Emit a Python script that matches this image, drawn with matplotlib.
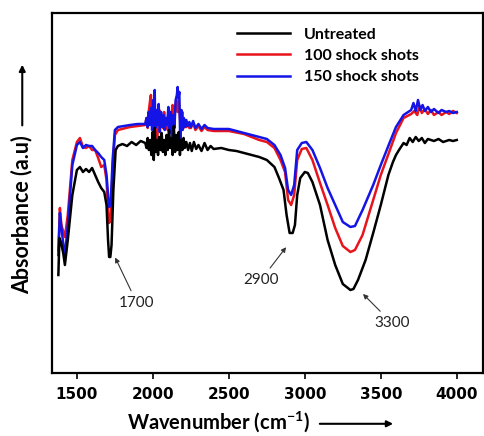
import matplotlib
matplotlib.use('Agg')
import matplotlib.pyplot as plt
from matplotlib.patches import FancyArrowPatch

plt.rcParams['font.family'] = ['Lato', 'DejaVu Sans']
plt.rcParams['mathtext.fontset'] = 'custom'
plt.rcParams['mathtext.rm'] = 'Lato'
plt.rcParams['mathtext.bf'] = 'Lato:bold'

# Spectra: wavenumber (cm^-1) and absorbance (a.u.)
wn_untreated = [1378, 1385, 1395, 1410, 1421, 1440, 1470, 1500, 1520, 1540, 1560, 1580, 1600,
                1620, 1640, 1660, 1680, 1695, 1705, 1712, 1720, 1728, 1740, 1755, 1770, 1800,
                1830, 1860, 1890, 1920, 1950, 1958, 1966, 1974, 1982, 1990, 1998, 2006, 2012,
                2018, 2026, 2034, 2042, 2050, 2058, 2066, 2074, 2082, 2090, 2098, 2106, 2114,
                2122, 2130, 2138, 2146, 2154, 2162, 2170, 2178, 2186, 2194, 2202, 2210, 2220,
                2232, 2244, 2256, 2270, 2285, 2300, 2320, 2340, 2360, 2380, 2400, 2450, 2500,
                2550, 2600, 2650, 2700, 2750, 2800, 2830, 2860, 2880, 2900, 2920, 2935, 2950,
                2970, 3000, 3020, 3050, 3100, 3150, 3200, 3250, 3300, 3320, 3350, 3400, 3450,
                3500, 3550, 3580, 3600, 3620, 3650, 3670, 3690, 3710, 3730, 3750, 3770, 3790,
                3810, 3850, 3880, 3910, 3950, 3975, 4000]
abs_untreated = [0.98, 1.35, 1.31, 1.20, 1.08, 1.33, 1.78, 2.03, 2.06, 2.01, 2.04, 2.01, 2.05,
                 1.98, 1.91, 1.85, 1.81, 1.68, 1.33, 1.16, 1.16, 1.28, 1.83, 2.23, 2.27, 2.29,
                 2.27, 2.31, 2.28, 2.32, 2.30, 2.25, 2.35, 2.23, 2.33, 2.18, 2.41, 2.13, 2.45,
                 2.21, 2.33, 2.18, 2.36, 2.23, 2.40, 2.21, 2.33, 2.18, 2.38, 2.23, 2.43, 2.25,
                 2.35, 2.18, 2.47, 2.21, 2.38, 2.23, 2.41, 2.18, 2.33, 2.23, 2.35, 2.25, 2.31,
                 2.23, 2.30, 2.22, 2.31, 2.24, 2.28, 2.22, 2.30, 2.23, 2.27, 2.24, 2.25, 2.23,
                 2.22, 2.20, 2.18, 2.16, 2.13, 2.06, 1.95, 1.83, 1.58, 1.40, 1.40, 1.48, 1.78,
                 1.95, 2.01, 2.00, 1.91, 1.68, 1.33, 1.08, 0.89, 0.83, 0.84, 0.93, 1.13, 1.40,
                 1.68, 1.98, 2.11, 2.18, 2.23, 2.30, 2.28, 2.35, 2.31, 2.36, 2.32, 2.35, 2.30,
                 2.34, 2.32, 2.34, 2.31, 2.33, 2.32, 2.33]

wn_100 = [1378, 1388, 1398, 1421, 1440, 1470, 1500, 1520, 1540, 1560, 1580, 1600, 1620, 1640,
          1660, 1680, 1695, 1705, 1712, 1722, 1735, 1750, 1770, 1850, 1900, 1950, 1958, 1966,
          1974, 1982, 1987, 1992, 2000, 2008, 2015, 2022, 2028, 2034, 2042, 2050, 2058, 2066,
          2074, 2082, 2090, 2098, 2106, 2114, 2122, 2130, 2138, 2146, 2154, 2162, 2170, 2178,
          2186, 2194, 2202, 2210, 2220, 2230, 2240, 2250, 2265, 2280, 2300, 2320, 2340, 2360,
          2400, 2500, 2600, 2700, 2750, 2800, 2840, 2870, 2890, 2910, 2930, 2950, 2980, 3010,
          3050, 3100, 3150, 3200, 3250, 3300, 3330, 3380, 3450, 3500, 3560, 3600, 3650, 3700,
          3720, 3740, 3755, 3770, 3790, 3810, 3830, 3850, 3880, 3900, 3930, 3950, 3975, 4000]
abs_100 = [1.23, 1.65, 1.48, 1.36, 1.58, 2.13, 2.31, 2.35, 2.26, 2.25, 2.27, 2.23, 2.23, 2.15,
           2.06, 2.08, 1.93, 1.63, 1.50, 1.53, 2.03, 2.38, 2.43, 2.46, 2.47, 2.48, 2.55, 2.45,
           2.63, 2.73, 2.78, 2.58, 2.46, 2.68, 2.53, 2.33, 2.25, 2.55, 2.63, 2.48, 2.58, 2.45,
           2.61, 2.48, 2.55, 2.43, 2.61, 2.45, 2.58, 2.68, 2.48, 2.65, 2.73, 2.61, 2.73, 2.55,
           2.43, 2.61, 2.45, 2.53, 2.46, 2.49, 2.45, 2.45, 2.50, 2.43, 2.47, 2.42, 2.46, 2.43,
           2.42, 2.42, 2.39, 2.33, 2.31, 2.25, 2.13, 2.01, 1.73, 1.68, 1.78, 2.13, 2.24, 2.25,
           2.13, 1.90, 1.68, 1.45, 1.27, 1.21, 1.23, 1.38, 1.73, 1.98, 2.23, 2.40, 2.55, 2.59,
           2.62, 2.58, 2.67, 2.60, 2.64, 2.59, 2.63, 2.58, 2.61, 2.58, 2.61, 2.59, 2.62, 2.60]

wn_150 = [1378, 1388, 1398, 1421, 1440, 1470, 1500, 1520, 1540, 1560, 1580, 1600, 1620, 1640,
          1660, 1680, 1695, 1705, 1712, 1722, 1735, 1750, 1770, 1850, 1900, 1950, 1958, 1965,
          1972, 1980, 1988, 1995, 2002, 2008, 2012, 2016, 2022, 2030, 2038, 2046, 2054, 2062,
          2070, 2078, 2086, 2094, 2102, 2110, 2118, 2126, 2134, 2142, 2150, 2158, 2163, 2168,
          2174, 2180, 2188, 2196, 2204, 2212, 2220, 2230, 2240, 2250, 2265, 2280, 2300, 2320,
          2340, 2360, 2400, 2500, 2600, 2700, 2750, 2800, 2840, 2870, 2890, 2910, 2930, 2950,
          2980, 3010, 3050, 3100, 3150, 3200, 3250, 3300, 3330, 3380, 3450, 3500, 3560, 3600,
          3650, 3700, 3715, 3730, 3745, 3760, 3775, 3790, 3810, 3830, 3850, 3880, 3900, 3930,
          3950, 3975, 4000]
abs_150 = [1.18, 1.60, 1.45, 1.16, 1.48, 2.08, 2.28, 2.31, 2.25, 2.28, 2.27, 2.27, 2.23, 2.20,
           2.16, 2.13, 1.98, 1.78, 1.66, 1.68, 2.13, 2.43, 2.46, 2.48, 2.49, 2.49, 2.55, 2.46,
           2.61, 2.48, 2.65, 2.43, 2.73, 2.38, 2.83, 2.45, 2.63, 2.48, 2.69, 2.41, 2.61, 2.46,
           2.58, 2.43, 2.55, 2.48, 2.66, 2.40, 2.61, 2.35, 2.58, 2.45, 2.73, 2.78, 2.86, 2.75,
           2.81, 2.33, 2.63, 2.43, 2.55, 2.46, 2.53, 2.47, 2.51, 2.46, 2.52, 2.45, 2.49, 2.44,
           2.48, 2.45, 2.44, 2.44, 2.40, 2.36, 2.34, 2.28, 2.18, 2.05, 1.83, 1.78, 1.88, 2.23,
           2.30, 2.31, 2.23, 2.05, 1.85, 1.68, 1.51, 1.46, 1.47, 1.63, 1.88, 2.08, 2.31, 2.46,
           2.58, 2.63, 2.70, 2.62, 2.73, 2.63, 2.68, 2.62, 2.66, 2.61, 2.64, 2.60, 2.63, 2.61,
           2.62, 2.60, 2.61]

labels = ['Untreated', '100 shock shots', '150 shock shots']
colors = ['black', '#e8141c', '#1414e6']
peaks = [1700, 2900, 3300]

fig = plt.figure(figsize=(4.84, 4.36), dpi=100)
ax = fig.add_axes([0.1074, 0.1445, 0.890, 0.8257])

ax.plot(wn_100, abs_100, color=colors[1], lw=1.8, label=labels[1], zorder=2)
ax.plot(wn_150, abs_150, color=colors[2], lw=1.8, label=labels[2], zorder=3)
ax.plot(wn_untreated, abs_untreated, color=colors[0], lw=1.8, label=labels[0], zorder=4)

ax.set_xlim(1336, 4171)
ax.set_ylim(0, 3.6)
ax.set_xticks([1500, 2000, 2500, 3000, 3500, 4000])
ax.set_yticks([])
ax.tick_params(axis='x', direction='out', length=4, width=1.2, pad=6)
for lab in ax.get_xticklabels():
    lab.set_fontfamily('DejaVu Sans')
    lab.set_fontweight('bold')
    lab.set_fontsize(11)
for sp in ax.spines.values():
    sp.set_linewidth(1.6)

h, l = ax.get_legend_handles_labels()
order = [2, 0, 1]
ax.legend([h[i] for i in order], [l[i] for i in order], loc='upper right',
          bbox_to_anchor=(0.885, 1.0), frameon=False, handlelength=3.3,
          handletextpad=0.9, labelspacing=0.45, prop={'weight': 'bold', 'size': 11.5})

# peak labels with arrows
arrow_kw = dict(arrowstyle='-|>', color='#333333', lw=0.8, mutation_scale=7)
ax.annotate(str(peaks[0]), xy=(1744, 1.18), xytext=(1895, 0.70), ha='center', va='center',
            fontsize=11, color='#222222', arrowprops=arrow_kw)
ax.annotate(str(peaks[1]), xy=(2888, 1.28), xytext=(2711, 0.93), ha='center', va='center',
            fontsize=11, color='#222222', arrowprops=arrow_kw)
ax.annotate(str(peaks[2]), xy=(3370, 0.81), xytext=(3573, 0.50), ha='center', va='center',
            fontsize=11, color='#222222', arrowprops=arrow_kw)

# axis titles with long arrows
fig.text(0.045, 0.507, 'Absorbance (a.u)', rotation=90, ha='center', va='center',
         fontsize=15.5, fontweight='bold')
fig.add_artist(FancyArrowPatch((0.046, 0.706), (0.046, 0.858), transform=fig.transFigure,
                               arrowstyle='-|>', mutation_scale=9, lw=1.5, color='black'))
fig.text(0.452, 0.034, 'Wavenumber (cm$^{\\mathbf{-1}}$)', ha='center', va='center',
         fontsize=14.5, fontweight='bold')
fig.add_artist(FancyArrowPatch((0.655, 0.028), (0.818, 0.028), transform=fig.transFigure,
                               arrowstyle='-|>', mutation_scale=9, lw=1.5, color='black'))

fig.savefig('out.png', dpi=100)
